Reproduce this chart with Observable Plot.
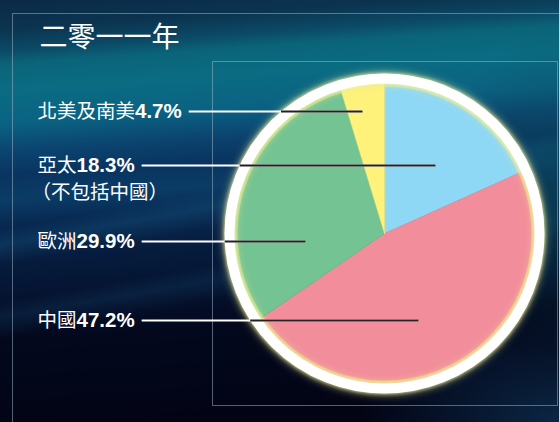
<!DOCTYPE html>
<html><head><meta charset="utf-8">
<script src="https://cdn.jsdelivr.net/npm/d3@7"></script>
<script src="https://cdn.jsdelivr.net/npm/@observablehq/plot@0.6"></script>
<style>
html,body{margin:0;padding:0;background:#03040f;}
#chart{position:relative;width:559px;height:422px;overflow:hidden;
background:
  radial-gradient(ellipse 200px 110px at 100% 100%, rgba(14,50,85,0.75), rgba(14,50,85,0)),
  radial-gradient(ellipse 120px 160px at 100% 45%, rgba(10,75,90,0.55), rgba(10,75,90,0)),
  linear-gradient(170deg, rgba(0,0,0,0) 44%, rgba(25,95,135,0.30) 47%, rgba(0,0,0,0) 51%),
  linear-gradient(170deg, rgba(0,0,0,0) 58%, rgba(25,85,125,0.22) 61%, rgba(0,0,0,0) 65%),
  linear-gradient(176deg, #0a2a47 0%, #0b3450 6.5%, #0b4a66 11%, #0a6479 14%, #0a6c82 19.5%, #0a6282 27%, #0b4570 32.6%, #093460 38%, #0a3c66 43.5%, #072850 49%, #061c3e 56.5%, #051330 65%, #03081d 74%, #020312 100%);
}
#chart svg{position:absolute;left:0;top:0;}
.frame{position:absolute;border:1px solid rgba(165,185,205,0.5);pointer-events:none;}
</style></head><body>
<div id="chart">
  <div class="frame" style="left:12px;top:13px;width:700px;height:600px"></div>
  <div class="frame" style="left:212px;top:61px;width:344px;height:343px"></div>
</div>
<script>
// ---- data ----
const title = "二零一一年";
const regions = ["亞太", "中國", "歐洲", "北美及南美"];
const shares = [18.3, 47.2, 29.9, 4.7];
const shareLabels = ["18.3%", "47.2%", "29.9%", "4.7%"];
const notes = ["（不包括中國）", "", "", ""];
const sliceColors = ["#8ed8f6", "#f28d9b", "#74c393", "#fef27b"];

// ---- layout (pixels) ----
const W = 559, H = 422, cx = 384, cy = 233, R = 150;
const ux = px => (px - cx) / R;
const uy = py => (cy - py) / R;
const labelX = 37;
const labelY = [165, 320, 241, 111];
const noteDy = 27;
const lineEndX = [435, 418, 305, 362];
const gap = 7;
const ringR = 155, ringW = 10;

const nameFont = "'Noto Sans CJK TC', 'Noto Sans CJK SC', sans-serif";
const numFont = "'Liberation Sans', Arial, sans-serif";
const nameSize = 19.5, numSize = 20.5;

const ctx = document.createElement("canvas").getContext("2d");
function measure(text, font) { ctx.font = font; return ctx.measureText(text).width; }

// pie geometry
const arcs = d3.pie().sort(null).value(d => d)(shares);
const slices = arcs.map((p, i) => {
  const pts = [{x: 0, y: 0}];
  const n = Math.max(4, Math.ceil((p.endAngle - p.startAngle) / 0.005));
  const r = 1.02;
  for (let k = 0; k <= n; k++) {
    const a = p.startAngle + (p.endAngle - p.startAngle) * k / n;
    pts.push({x: Math.sin(a) * r, y: Math.cos(a) * r});
  }
  return {pts, color: sliceColors[i]};
});

// labels & leader lines
const outerU = (ringR + ringW / 2) / R;
const rows = regions.map((name, i) => {
  const nw = measure(name, `${nameSize}px ${nameFont}`);
  const vw = measure(shareLabels[i], `bold ${numSize}px ${numFont}`);
  const y = uy(labelY[i]);
  const startPx = labelX + nw + vw + gap;
  const edge = -Math.sqrt(Math.max(0, outerU * outerU - y * y));
  return {
    name, num: shareLabels[i], note: notes[i],
    xName: ux(labelX), xNum: ux(labelX + nw), y,
    yNote: uy(labelY[i] + noteDy),
    x1: ux(startPx), x2: ux(lineEndX[i]), xEdge: edge
  };
});
const noteRows = rows.filter(d => d.note);

const center = [{x: 0, y: 0}];
const plot = Plot.plot({
  width: W, height: H, margin: 0,
  x: {domain: [ux(0), ux(W)], axis: null},
  y: {domain: [uy(H), uy(0)], axis: null},
  style: {background: "transparent", overflow: "visible"},
  marks: [
    ...slices.map(s => Plot.line(s.pts, {x: "x", y: "y", fill: s.color, stroke: s.color, strokeWidth: 0.6, curve: "linear-closed"})),
    Plot.dot(center, {x: "x", y: "y", r: ringR - ringW / 2 - 1.5, fill: "none", stroke: "#e8ec90", strokeWidth: 3, strokeOpacity: 0.45}),
    Plot.dot(center, {x: "x", y: "y", r: ringR, fill: "none", stroke: "white", strokeWidth: ringW}),
    // leader lines
    Plot.link(rows, {x1: "x1", x2: "x2", y1: "y", y2: "y", stroke: "white", strokeWidth: 2}),
    Plot.link(rows, {x1: "xEdge", x2: "x2", y1: "y", y2: "y", stroke: "#222222", strokeWidth: 2}),
    // labels
    Plot.text(rows, {x: "xName", y: "y", text: "name", textAnchor: "start", fill: "white", fontSize: nameSize, fontFamily: nameFont}),
    Plot.text(rows, {x: "xNum", y: "y", text: "num", textAnchor: "start", fill: "white", fontSize: numSize, fontWeight: "bold", fontFamily: numFont}),
    Plot.text(noteRows, {x: () => ux(labelX - 6), y: "yNote", text: "note", textAnchor: "start", fill: "white", fontSize: nameSize, fontFamily: nameFont}),
    // title
    Plot.text([title], {x: () => ux(39), y: () => uy(38), text: d => d, textAnchor: "start", fill: "white", fontSize: 28, fontFamily: nameFont})
  ]
});
// soft yellow glow on the white ring
const dots = plot.querySelectorAll('g[aria-label="dot"]');
const ring = dots[dots.length - 1];
if (ring) ring.style.filter = "drop-shadow(0 0 2px rgba(250,248,170,0.95)) drop-shadow(0 0 4px rgba(235,235,140,0.6))";
document.getElementById("chart").appendChild(plot);
</script>
</body></html>
